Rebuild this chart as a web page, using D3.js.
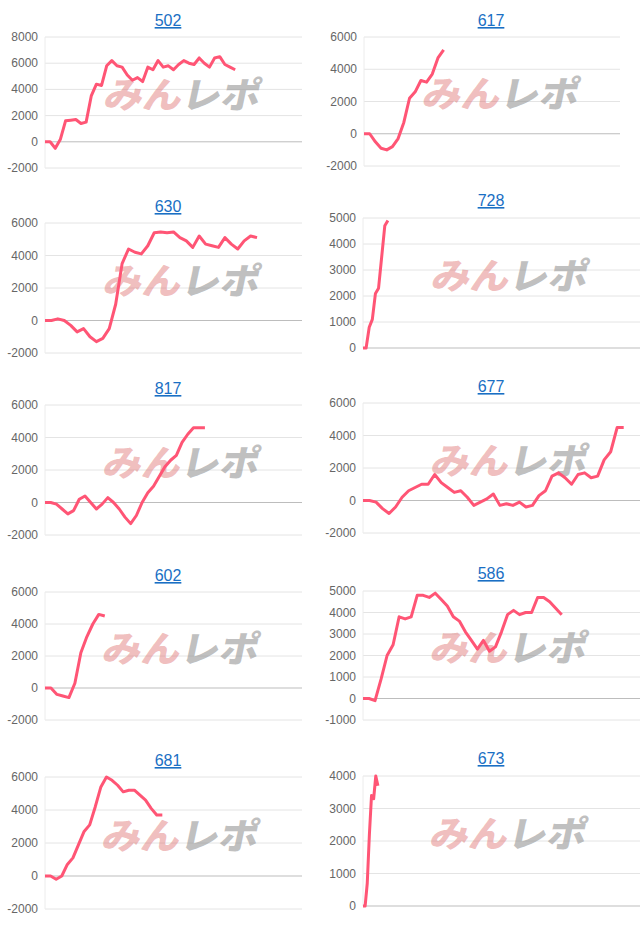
<!DOCTYPE html>
<html><head><meta charset="utf-8">
<script src="https://cdn.jsdelivr.net/npm/d3@7"></script>
<style>
body{margin:0;background:#fff;font-family:"Liberation Sans",Arial,sans-serif}
</style></head><body>
<svg id="c" width="640" height="931"></svg>
<script>
// ---- data ----
const titles = ['502', '617', '630', '728', '817', '677', '602', '586', '681', '673'];
const s502 = [0,0,-500,200,1600,1650,1700,1400,1500,3500,4400,4300,5800,6200,5800,5700,5100,4700,4900,4600,5700,5500,6200,5700,5800,5500,5900,6200,6000,5900,6400,6000,5700,6400,6500,5900,5700,5500];
const s617 = [0,0,-500,-900,-1000,-800,-300,700,2200,2600,3300,3200,3700,4700,5200];
const s630 = [0,0,100,0,-300,-700,-500,-1000,-1300,-1100,-500,1000,3500,4400,4200,4100,4600,5400,5450,5400,5450,5100,4900,4500,5200,4700,4600,4500,5100,4700,4400,4900,5200,5100];
const s728 = [0,0,800,1100,2100,2300,3500,4700,4900];
const s817 = [0,0,-100,-400,-700,-500,200,400,0,-400,-100,300,0,-400,-900,-1300,-800,0,600,1000,1600,2200,2600,2900,3700,4200,4600,4600,4600];
const s677 = [0,0,-100,-500,-800,-400,200,600,800,1000,1000,1600,1100,800,500,600,200,-300,-100,100,400,-300,-200,-300,-100,-400,-300,300,600,1500,1700,1400,1000,1600,1700,1400,1500,2500,3000,4500,4500];
const s602 = [0,0,-400,-500,-600,300,2200,3200,4000,4600,4500];
const s586 = [0,0,-100,900,2000,2500,3800,3700,3800,4800,4800,4700,4900,4600,4300,3800,3600,3100,2700,2300,2700,2200,2400,3100,3900,4100,3900,4000,4000,4700,4700,4500,4200,3900];
const s681 = [0,0,-200,0,700,1100,1900,2700,3100,4200,5400,6000,5800,5500,5100,5200,5200,4900,4600,4100,3700,3700];
const s673 = [0,0,700,2200,3400,3300,4000,3700];
const series = [s502, s617, s630, s728, s817, s677, s602, s586, s681, s673];
const xMax = [50, 45, 40, 89, 45, 42.5, 43, 46, 46, 130];
const yDomains = [[-2000,8000],[-2000,6000],[-2000,6000],[0,5000],[-2000,6000],[-2000,6000],[-2000,6000],[-1000,5000],[-2000,6000],[0,4000]];
const yTicks = [
  [-2000,0,2000,4000,6000,8000],[-2000,0,2000,4000,6000],[-2000,0,2000,4000,6000],
  [0,1000,2000,3000,4000,5000],[-2000,0,2000,4000,6000],[-2000,0,2000,4000,6000],
  [-2000,0,2000,4000,6000],[-1000,0,1000,2000,3000,4000,5000],[-2000,0,2000,4000,6000],
  [0,1000,2000,3000,4000]
];

// ---- layout per panel: title y, plot top, plot bottom, x left, x right ----
const boxes = [
  [20,37,168,45,302],[20,37,166,364,620],
  [206,223,353,45,302],[200,218,348,363,640],
  [388,405,535,45,302],[386,403,533,363,640],
  [575,592,720,45,302],[573,591,720,363,640],
  [760,777,909,45,302],[758,776,906,363,640]
];

const svg = d3.select('#c');

series.forEach((data, i) => {
  const [ty, top, bot, x0, x1] = boxes[i];
  const g = svg.append('g');
  const x = d3.scaleLinear().domain([0, xMax[i]]).range([x0, x1]);
  const y = d3.scaleLinear().domain(yDomains[i]).range([bot, top]);

  // title
  g.append('text')
    .attr('x', i % 2 ? 491 : 168).attr('y', ty + 6)
    .attr('text-anchor', 'middle')
    .attr('font-size', 16).attr('fill', '#1a6fc4')
    .attr('text-decoration', 'underline')
    .text(titles[i]);

  // grid
  g.append('g').selectAll('line').data(yTicks[i]).join('line')
    .attr('x1', x0).attr('x2', x1)
    .attr('y1', d => y(d)).attr('y2', d => y(d))
    .attr('stroke', d => d === 0 ? '#bdbdbd' : '#e4e4e4')
    .attr('stroke-width', 1);
  g.append('line')
    .attr('x1', x0).attr('x2', x0).attr('y1', top).attr('y2', bot)
    .attr('stroke', '#ececec');

  // axis labels
  g.append('g').selectAll('text').data(yTicks[i]).join('text')
    .attr('x', x0 - 7).attr('y', d => y(d) + 4)
    .attr('text-anchor', 'end')
    .attr('font-size', 12).attr('fill', '#666')
    .text(d => d);

  // watermark
  const cx = (x0 + x1) / 2 + 10, cy = (top + bot) / 2 - 7;
  const wm = g.append('text')
    .attr('x', cx).attr('y', cy + 13)
    .attr('text-anchor', 'middle')
    .attr('font-family', '"Noto Sans CJK JP",sans-serif')
    .attr('font-weight', 900)
    .attr('font-size', 36)
    .attr('textLength', 156).attr('lengthAdjust', 'spacingAndGlyphs')
    .attr('transform', `translate(${cy * 0.21},0) skewX(-12)`);
  wm.append('tspan').attr('fill', 'rgba(222,110,110,0.45)').text('みん');
  wm.append('tspan').attr('fill', 'rgba(150,150,150,0.6)').text('レポ');

  // line
  g.append('path').datum(data)
    .attr('fill', 'none')
    .attr('stroke', '#ff5575')
    .attr('stroke-width', 3)
    .attr('stroke-linejoin', 'round')
    .attr('d', d3.line().x((d, j) => x(j)).y(d => y(d)));
});
</script>
</body></html>
